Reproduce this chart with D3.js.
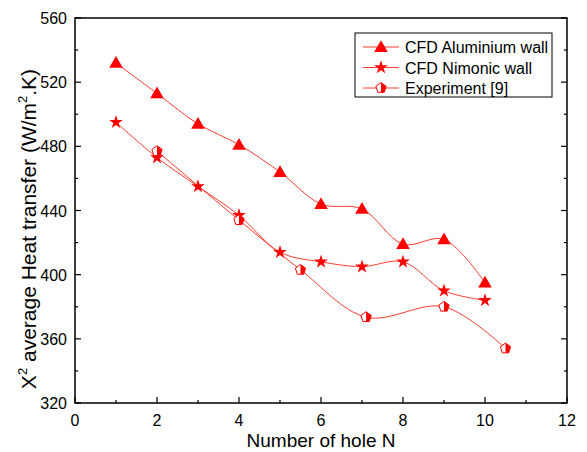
<!DOCTYPE html>
<html>
<head>
<meta charset="utf-8">
<script src="https://cdn.jsdelivr.net/npm/d3@7"></script>
<style>
  html, body { margin: 0; padding: 0; background: #fff; }
  svg { display: block; font-family: "Liberation Sans", Arial, sans-serif; }
</style>
</head>
<body>
<svg id="chart" width="587" height="452"></svg>
<script>
// Heat transfer vs number of holes
const holesCFD = [1, 2, 3, 4, 5, 6, 7, 8, 9, 10];
const aluminium = [532, 513, 494, 481, 464, 444, 441, 419, 422, 395];
const nimonic = [495, 473, 455, 437, 414, 408, 405, 408, 390, 384];
const holesExp = [2, 4, 5.5, 7.1, 9, 10.5];
const experiment = [477, 434, 403, 373.5, 380, 354];

const xTicks = [0, 2, 4, 6, 8, 10, 12];
const yTicks = [320, 360, 400, 440, 480, 520, 560];
const seriesNames = ["CFD Aluminium wall", "CFD Nimonic wall", "Experiment [9]"];

(function () {
const svg = d3.select("#chart");
const pLeft = 75, pRight = 567, pTop = 18, pBottom = 403;
const red = "#ff0000", lineCol = "#ff3b2f";

const x = d3.scaleLinear().domain([0, 12]).range([pLeft, pRight]);
const y = d3.scaleLinear().domain([320, 560]).range([pBottom, pTop]);

// frame
svg.append("rect").attr("x", pLeft).attr("y", pTop)
  .attr("width", pRight - pLeft).attr("height", pBottom - pTop)
  .attr("fill", "none").attr("stroke", "#000").attr("stroke-width", 1.5);

// inward ticks
const xMinor = d3.range(0, 12.01, 1);
const yMinor = d3.range(320, 560.01, 20);
const tickG = svg.append("g").attr("stroke", "#000").attr("stroke-width", 1.2);
xMinor.forEach(v => {
  const len = v % 2 === 0 ? 6 : 3;
  tickG.append("line").attr("x1", x(v)).attr("x2", x(v)).attr("y1", pBottom).attr("y2", pBottom - len);
});
yMinor.forEach(v => {
  const len = v % 40 === 0 ? 6 : 3;
  tickG.append("line").attr("x1", pLeft).attr("x2", pLeft + len).attr("y1", y(v)).attr("y2", y(v));
  tickG.append("line").attr("x1", pRight).attr("x2", pRight - len).attr("y1", y(v)).attr("y2", y(v));
});

// tick labels
svg.append("g").selectAll("text").data(xTicks).join("text")
  .attr("x", d => x(d)).attr("y", 426).attr("text-anchor", "middle")
  .attr("font-size", 16).text(d => d);
svg.append("g").selectAll("text").data(yTicks).join("text")
  .attr("x", 67).attr("y", d => y(d) + 6).attr("text-anchor", "end")
  .attr("font-size", 16).text(d => d);

// axis titles
svg.append("text").attr("x", (pLeft + pRight) / 2).attr("y", 447)
  .attr("text-anchor", "middle").attr("font-size", 19).text("Number of hole N");
const yt = svg.append("text").attr("transform", "translate(36,229) rotate(-90)")
  .attr("text-anchor", "middle").attr("font-size", 21);
yt.append("tspan").text("X");
yt.append("tspan").attr("dy", -9).attr("font-size", 13).text("2");
yt.append("tspan").attr("dy", 9).text(" average Heat transfer (W/m");
yt.append("tspan").attr("dy", -9).attr("font-size", 13).text("2");
yt.append("tspan").attr("dy", 9).text(".K)");

// markers
const triPath = d3.symbol(d3.symbolTriangle, 80)();
const starPath = d3.symbol(d3.symbolStar, 58)();
function pentagon(r) {
  const pts = d3.range(5).map(i => {
    const a = -Math.PI / 2 + i * 2 * Math.PI / 5;
    return [r * Math.cos(a), r * Math.sin(a)];
  });
  return "M" + pts.map(p => p.join(",")).join("L") + "Z";
}
const pentPath = pentagon(5.4);

svg.append("defs").append("clipPath").attr("id", "rightHalf")
  .append("rect").attr("x", 0).attr("y", -10).attr("width", 10).attr("height", 20);

function drawMarker(g, kind, cx, cy) {
  const m = g.append("g").attr("transform", `translate(${cx},${cy})`);
  if (kind === 0) m.append("path").attr("d", triPath).attr("transform", "translate(0,1)").attr("fill", red);
  else if (kind === 1) m.append("path").attr("d", starPath).attr("fill", red);
  else {
    m.append("path").attr("d", pentPath).attr("fill", "#fff").attr("stroke", red).attr("stroke-width", 1);
    m.append("path").attr("d", pentPath).attr("fill", red).attr("clip-path", "url(#rightHalf)");
  }
}

const line = d3.line().x(d => x(d[0])).y(d => y(d[1])).curve(d3.curveCatmullRom.alpha(0.5));
const series = [
  { kind: 0, pts: d3.zip(holesCFD, aluminium) },
  { kind: 1, pts: d3.zip(holesCFD, nimonic) },
  { kind: 2, pts: d3.zip(holesExp, experiment) }
];
series.forEach(s => {
  svg.append("path").attr("d", line(s.pts)).attr("fill", "none")
    .attr("stroke", lineCol).attr("stroke-width", 1);
});
series.forEach(s => {
  const g = svg.append("g");
  s.pts.forEach(p => drawMarker(g, s.kind, x(p[0]), y(p[1])));
});

// legend
const lg = svg.append("g");
lg.append("rect").attr("x", 355).attr("y", 33).attr("width", 197).attr("height", 64)
  .attr("fill", "#fff").attr("stroke", "#000").attr("stroke-width", 1);
seriesNames.forEach((name, i) => {
  const ly = 47 + i * 20.5;
  lg.append("line").attr("x1", 363).attr("x2", 399).attr("y1", ly).attr("y2", ly)
    .attr("stroke", lineCol).attr("stroke-width", 1);
  drawMarker(lg, i, 381, ly);
  lg.append("text").attr("x", 405).attr("y", ly + 6).attr("font-size", 16).text(name);
});
})();
</script>
</body>
</html>
